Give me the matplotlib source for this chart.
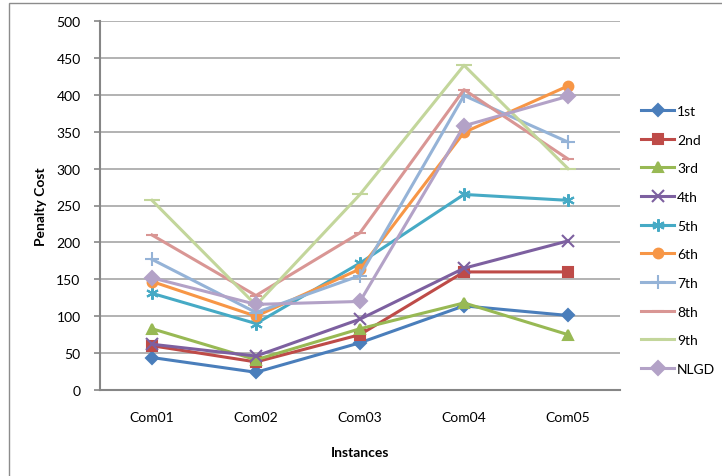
import matplotlib
matplotlib.use("Agg")
import matplotlib.pyplot as plt
from matplotlib.patches import Rectangle

plt.rcParams['font.family'] = ['Lato', 'DejaVu Sans']

instances = ['Com01', 'Com02', 'Com03', 'Com04', 'Com05']

s1st = [44, 24, 64, 114, 101]
s2nd = [60, 38, 75, 160, 160]
s3rd = [83, 41, 83, 118, 75]
s4th = [62, 46, 96, 165, 202]
s5th = [131, 90, 172, 265, 257]
s6th = [147, 100, 164, 349, 412]
s7th = [177, 105, 155, 399, 336]
s8th = [210, 128, 213, 407, 313]
s9th = [257, 115, 265, 440, 300]
nlgd = [152, 116, 120, 358, 398]

names = ['1st', '2nd', '3rd', '4th', '5th', '6th', '7th', '8th', '9th', 'NLGD']
series = [s1st, s2nd, s3rd, s4th, s5th, s6th, s7th, s8th, s9th, nlgd]
colors = ['#4A7EBB', '#BE4B48', '#98B954', '#7D60A0', '#46AAC5',
          '#F79646', '#95B3D7', '#D99694', '#C3D69B', '#B3A2C7']
markers = ['D', 's', '^', 'x', (6, 2, 0), 'o', '+', '_', '_', 'D']
msizes = [6, 7, 7, 8, 9, 7, 10, 9, 11, 7]

fig = plt.figure(figsize=(7.22, 4.77), dpi=100)
ax = fig.add_axes([100 / 722, 1 - 391 / 477, 520 / 722, 369 / 477])

# outer chart frame (only top and left edges are visible)
fig.patches.append(Rectangle((9 / 722, -0.1), 1.2, 1 - 4 / 477 + 0.1,
                             transform=fig.transFigure, fill=False,
                             edgecolor='#8C8C8C', linewidth=1.0))

x = list(range(len(instances)))
for name, vals, c, m, ms in zip(names, series, colors, markers, msizes):
    ax.plot(x, vals, color=c, linewidth=2.2, marker=m, markersize=ms,
            markerfacecolor=c, markeredgecolor=c, markeredgewidth=1.5,
            label=name)

ax.set_xlim(-0.5, 4.5)
ax.set_ylim(0, 500)
ax.set_yticks(range(0, 501, 50))
ax.set_xticks(x)
ax.set_xticklabels(instances)
ax.yaxis.grid(True, color='#A6A6A6', linewidth=1.2)
ax.set_axisbelow(True)
for side in ['top', 'right']:
    ax.spines[side].set_visible(False)
for side in ['left', 'bottom']:
    ax.spines[side].set_color('#868686')
    ax.spines[side].set_linewidth(1.5)
ax.tick_params(axis='y', length=4, width=1.2, color='#868686', labelsize=10, pad=10)
ax.tick_params(axis='x', length=0, labelsize=10, pad=15)

ax.set_ylabel('Penalty Cost', fontsize=10, fontweight='bold', labelpad=7)
ax.set_xlabel('Instances', fontsize=10, fontweight='bold', labelpad=17)

ax.legend(loc='upper left', bbox_to_anchor=(641 / 722, 1 - 106 / 477),
          bbox_transform=fig.transFigure, frameon=False, fontsize=10,
          handlelength=2.4, handletextpad=0.2, labelspacing=1.2,
          borderaxespad=0, borderpad=0)

fig.savefig('out.png', dpi=100)
